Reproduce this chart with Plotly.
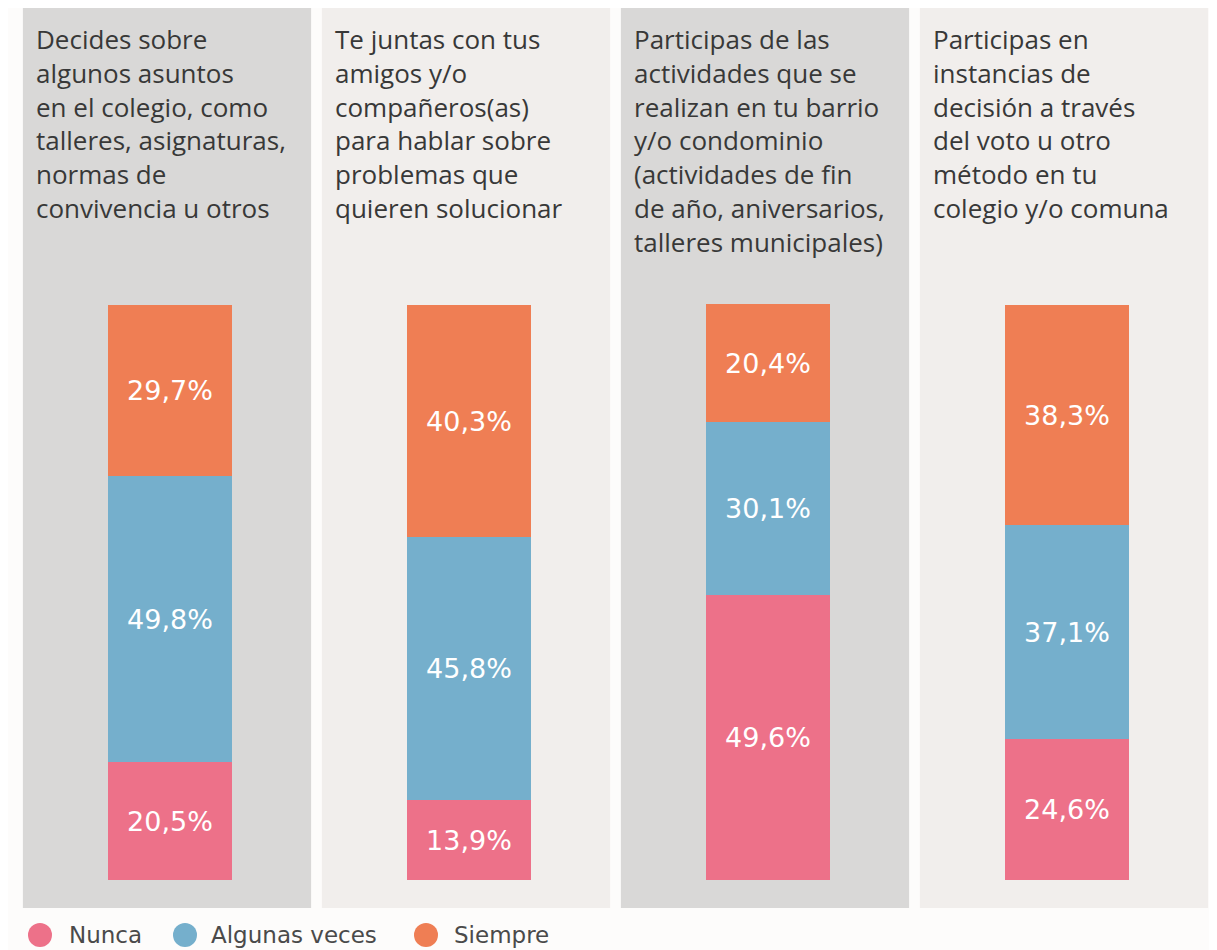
import plotly.graph_objects as go

# ---- data ----
categories = [
    "Decides sobre<br>algunos asuntos<br>en el colegio, como<br>talleres, asignaturas,<br>normas de<br>convivencia u otros",
    "Te juntas con tus<br>amigos y/o<br>compañeros(as)<br>para hablar sobre<br>problemas que<br>quieren solucionar",
    "Participas de las<br>actividades que se<br>realizan en tu barrio<br>y/o condominio<br>(actividades de fin<br>de año, aniversarios,<br>talleres municipales)",
    "Participas en<br>instancias de<br>decisión a través<br>del voto u otro<br>método en tu<br>colegio y/o comuna",
]
series_names = ["Nunca", "Algunas veces", "Siempre"]
nunca = [20.5, 13.9, 49.6, 24.6]
algunas = [49.8, 45.8, 30.1, 37.1]
siempre = [29.7, 40.3, 20.4, 38.3]
series_values = [nunca, algunas, siempre]
series_colors = ["#ED7189", "#75AFCC", "#EF7E54"]
panel_colors = ["#D9D8D7", "#F1EEEC", "#D9D8D7", "#F1EEEC"]

W, H = 1209, 942   # page body adds an 8px offset

xpos = list(range(len(categories)))

fig = go.Figure()
for name, vals, col in zip(series_names, series_values, series_colors):
    fig.add_trace(go.Bar(
        x=xpos, y=vals, name=name, marker=dict(color=col, line=dict(width=0)),
        width=0.418, texttemplate="%{y:.1f}%", textposition="inside",
        insidetextanchor="middle", textangle=0,
        insidetextfont=dict(color="white", size=27, family="DejaVu Sans"),
        showlegend=False, hoverinfo="skip",
    ))

# panel backgrounds and titles
for i, (cat, pc) in enumerate(zip(categories, panel_colors)):
    fig.add_shape(type="rect", xref="x", yref="y", x0=i - 0.492, x1=i + 0.472,
                  y0=-4.87, y1=152.0, fillcolor=pc, line=dict(width=0), layer="below")
    fig.add_annotation(x=i - 0.455, y=149.7, xref="x", yref="y", text=cat,
                       showarrow=False, xanchor="left", yanchor="top", align="left",
                       font=dict(family="Open Sans", size=26, color="#383838"))

# legend (drawn manually so the dots match the reference size)
legend_dot_x = [32, 177, 418]
legend_text_x = [59, 201, 444]
legend_y = 927
r = 12
for name, col, dx, tx in zip(series_names, series_colors, legend_dot_x, legend_text_x):
    fig.add_shape(type="circle", xref="paper", yref="paper",
                  x0=(dx - r) / W, x1=(dx + r) / W,
                  y0=1 - (legend_y + r) / H, y1=1 - (legend_y - r) / H,
                  fillcolor=col, line=dict(width=0))
    fig.add_annotation(x=tx / W, y=1 - legend_y / H, xref="paper", yref="paper",
                       text=name, showarrow=False, xanchor="left", yanchor="middle",
                       font=dict(family="DejaVu Sans", size=23, color="#4A4A4A"))

fig.update_layout(
    width=W, height=H,
    margin=dict(l=0, r=0, t=0, b=0),
    barmode="stack", bargap=0,
    separators=",.",
    paper_bgcolor="#FDFCFB", plot_bgcolor="#FDFCFB",
    xaxis=dict(range=[-0.5418, 3.5017], visible=False, fixedrange=True),
    yaxis=dict(range=[-12.17, 151.65], visible=False, fixedrange=True),
    showlegend=False,
)

fig.write_html("out.html")
